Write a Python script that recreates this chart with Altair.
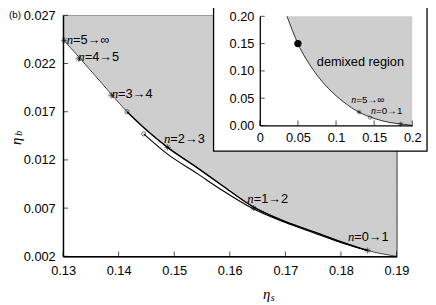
import altair as alt
import pandas as pd

# ---------------- main panel data ----------------
eta_s = [0.1300, 0.1328, 0.1387, 0.1415, 0.1452, 0.1488, 0.1541, 0.1585, 0.1643, 0.1700, 0.1753, 0.1806, 0.1848, 0.1900]
eta_b = [0.0245, 0.0227, 0.0188, 0.0170, 0.0150, 0.0133, 0.0112, 0.0094, 0.0071, 0.0056, 0.0045, 0.0034, 0.0026, 0.0020]

low_s = [0.1445, 0.1488, 0.1541, 0.1585, 0.1643, 0.1700, 0.1753, 0.1806, 0.1848]
low_b = [0.0147, 0.0126, 0.0106, 0.0089, 0.0069, 0.0055, 0.0044, 0.0033, 0.0026]

star_s = [0.1302, 0.1328, 0.1387, 0.1488, 0.1643, 0.1848]
star_b = [0.0244, 0.0225, 0.0187, 0.0133, 0.0070, 0.0026]
circ_s = [0.1415, 0.1445]
circ_b = [0.0170, 0.0147]

lab_text = ["=5→∞", "=4→5", "=3→4", "=2→3", "=1→2", "=0→1"]
lab_s = [0.1318, 0.1339, 0.1399, 0.1493, 0.1643, 0.1824]
lab_b = [0.02445, 0.0227, 0.0188, 0.0142, 0.0079, 0.0040]

x_ticks = [0.13, 0.14, 0.15, 0.16, 0.17, 0.18, 0.19]
y_ticks = [0.002, 0.007, 0.012, 0.017, 0.022, 0.027]

# ---------------- inset data ----------------
in_s = [0.0357, 0.05, 0.07, 0.09, 0.11, 0.13, 0.15, 0.17, 0.19, 0.20]
in_b = [0.200, 0.150, 0.102, 0.068, 0.043, 0.0245, 0.0130, 0.0056, 0.0020, 0.0]
crit_s = [0.05]
crit_b = [0.15]
in_star_s = [0.1302, 0.1848]
in_star_b = [0.0244, 0.0026]
in_circ_s = [0.1445]
in_circ_b = [0.0147]
in_lab_text = ["=5→∞", "=0→1"]
in_lab_s = [0.1265, 0.1523]
in_lab_b = [0.046, 0.027]
in_x_ticks = [0, 0.05, 0.1, 0.15, 0.2]
in_y_ticks = [0, 0.05, 0.1, 0.15, 0.2]

STAR = "M-1,0L1,0M0,-1L0,1M-0.7,-0.7L0.7,0.7M-0.7,0.7L0.7,-0.7"
SANS = "Liberation Sans"
SERIF = "Liberation Serif"

# ---------------- scales & axes ----------------
xs = alt.Scale(domain=[x_ticks[0], x_ticks[-1]], nice=False, zero=False)
ys = alt.Scale(domain=[y_ticks[0], y_ticks[-1]], nice=False, zero=False)

common_axis = dict(ticks=False, grid=False, domainColor="black", domainWidth=1.3,
                   labelFont=SANS, labelFontSize=13, labelColor="black",
                   labelFlush=False, labelOverlap=False, title=None, zindex=1)
ax_x = alt.Axis(values=x_ticks, format=".2f", labelPadding=8, **common_axis)
ax_y = alt.Axis(values=y_ticks, format=".3f", labelPadding=8, **common_axis)

ixs = alt.Scale(domain=[0, 0.2], range=[200, 355], nice=False, zero=False)
iys = alt.Scale(domain=[0, 0.2], range=[112, 1], nice=False, zero=False)
iax_x = alt.Axis(values=in_x_ticks, format="~g", labelPadding=6, orient="bottom", offset=-133, **common_axis)
iax_y = alt.Axis(values=in_y_ticks, format=".2f", labelPadding=6, orient="left", offset=-200, **common_axis)


def X(f):
    return alt.X(f, type="quantitative", scale=xs, axis=ax_x)


def Y(f):
    return alt.Y(f, type="quantitative", scale=ys, axis=ax_y)


def IX(f):
    return alt.X(f, type="quantitative", scale=ixs, axis=iax_x)


def IY(f):
    return alt.Y(f, type="quantitative", scale=iys, axis=iax_y)


# ---------------- main panel ----------------
curve = pd.DataFrame({"s": eta_s, "b": eta_b})
lower = pd.DataFrame({"s": low_s, "b": low_b})
stars = pd.DataFrame({"s": star_s, "b": star_b})
circs = pd.DataFrame({"s": circ_s, "b": circ_b})
labs = pd.DataFrame({"s": lab_s, "b": lab_b, "t": lab_text})
xt = pd.DataFrame({"t": x_ticks, "base": [y_ticks[0]] * len(x_ticks)})
yt = pd.DataFrame({"t": y_ticks, "base": [x_ticks[0]] * len(y_ticks)})
one = pd.DataFrame({"a": [0]})

m_area = alt.Chart(curve).mark_area(color="#cecece", interpolate="monotone").encode(
    x=X("s"), y=Y("b"), y2=alt.datum(y_ticks[-1]))
m_bound = alt.Chart(curve).mark_line(color="black", strokeWidth=0.7, interpolate="monotone").encode(
    x=X("s"), y=Y("b"))
m_thick = alt.Chart(curve.iloc[3:13]).mark_line(color="black", strokeWidth=1.4, interpolate="monotone").encode(
    x=X("s"), y=Y("b"))
m_low = alt.Chart(lower).mark_line(color="black", strokeWidth=1.1, interpolate="monotone").encode(
    x=X("s"), y=Y("b"))
m_stars = alt.Chart(stars).mark_point(shape=STAR, size=40, filled=False, color="black", strokeWidth=0.8).encode(
    x=X("s"), y=Y("b"))
m_circs = alt.Chart(circs).mark_point(shape="circle", size=18, filled=False, color="black", strokeWidth=0.8).encode(
    x=X("s"), y=Y("b"))
m_n = alt.Chart(labs).mark_text(text="n", font=SERIF, fontStyle="italic", fontSize=13, align="right",
                                baseline="middle", color="black").encode(x=X("s"), y=Y("b"))
m_rest = alt.Chart(labs).mark_text(font=SANS, fontSize=13, align="left", baseline="middle", color="black").encode(
    x=X("s"), y=Y("b"), text="t:N")
m_xt = alt.Chart(xt).mark_tick(orient="vertical", size=5, thickness=1, color="black", yOffset=-2.5).encode(
    x=X("t"), y=Y("base"))
m_yt = alt.Chart(yt).mark_tick(orient="horizontal", size=5, thickness=1, color="black", xOffset=2.5).encode(
    y=Y("t"), x=X("base"))

t_b = alt.Chart(one).mark_text(text="(b)", font=SANS, fontSize=10, align="left", baseline="top", color="black").encode(
    x=alt.value(-55), y=alt.value(-5))
t_eta_y = alt.Chart(one).mark_text(text="η", font=SERIF, fontStyle="italic", fontSize=15, angle=270,
                                   align="center", baseline="middle", color="black").encode(
    x=alt.value(-48), y=alt.value(128))
t_b_y = alt.Chart(one).mark_text(text="b", font=SERIF, fontStyle="italic", fontSize=10, angle=270,
                                 align="center", baseline="middle", color="black").encode(
    x=alt.value(-45), y=alt.value(120))
t_eta_x = alt.Chart(one).mark_text(text="η", font=SERIF, fontStyle="italic", fontSize=15,
                                   align="center", baseline="middle", color="black").encode(
    x=alt.value(207), y=alt.value(283))
t_s_x = alt.Chart(one).mark_text(text="s", font=SERIF, fontStyle="italic", fontSize=10,
                                 align="center", baseline="middle", color="black").encode(
    x=alt.value(213), y=alt.value(287))

main = alt.layer(m_area, m_bound, m_thick, m_low, m_stars, m_circs, m_n, m_rest, m_xt, m_yt,
                 t_b, t_eta_y, t_b_y, t_eta_x, t_s_x)

# ---------------- inset ----------------
icurve = pd.DataFrame({"s": in_s, "b": in_b})
icrit = pd.DataFrame({"s": crit_s, "b": crit_b})
istars = pd.DataFrame({"s": in_star_s, "b": in_star_b})
icircs = pd.DataFrame({"s": in_circ_s, "b": in_circ_b})
ilabs = pd.DataFrame({"s": in_lab_s, "b": in_lab_b, "t": in_lab_text})
ixt = pd.DataFrame({"t": in_x_ticks, "base": [in_y_ticks[0]] * len(in_x_ticks)})
iyt = pd.DataFrame({"t": in_y_ticks, "base": [in_x_ticks[0]] * len(in_y_ticks)})
itext = pd.DataFrame({"s": [0.132], "b": [0.117], "t": ["demixed region"]})

i_box = alt.Chart(one).mark_rect(fill="white", stroke="black", strokeWidth=1.3).encode(
    x=alt.value(153), x2=alt.value(370), y=alt.value(-8), y2=alt.value(138))
i_area = alt.Chart(icurve).mark_area(color="#cecece", interpolate="monotone").encode(
    x=IX("s"), y=IY("b"), y2=alt.datum(in_y_ticks[-1]))
i_line = alt.Chart(icurve).mark_line(color="black", strokeWidth=0.8, interpolate="monotone").encode(
    x=IX("s"), y=IY("b"))
i_crit = alt.Chart(icrit).mark_point(shape="circle", size=55, filled=True, color="black", opacity=1).encode(
    x=IX("s"), y=IY("b"))
i_stars = alt.Chart(istars).mark_point(shape=STAR, size=22, filled=False, color="black", strokeWidth=0.8).encode(
    x=IX("s"), y=IY("b"))
i_circs = alt.Chart(icircs).mark_point(shape="circle", size=12, filled=False, color="black", strokeWidth=0.7).encode(
    x=IX("s"), y=IY("b"))
i_n = alt.Chart(ilabs).mark_text(text="n", font=SERIF, fontStyle="italic", fontSize=10, align="right",
                                 baseline="middle", color="black").encode(x=IX("s"), y=IY("b"))
i_rest = alt.Chart(ilabs).mark_text(font=SANS, fontSize=10, align="left", baseline="middle", color="black").encode(
    x=IX("s"), y=IY("b"), text="t:N")
i_txt = alt.Chart(itext).mark_text(font=SANS, fontSize=13, align="center", baseline="middle", color="black").encode(
    x=IX("s"), y=IY("b"), text="t:N")
i_xt = alt.Chart(ixt).mark_tick(orient="vertical", size=5, thickness=1, color="black", yOffset=-2.5).encode(
    x=IX("t"), y=IY("base"))
i_yt = alt.Chart(iyt).mark_tick(orient="horizontal", size=5, thickness=1, color="black", xOffset=2.5).encode(
    y=IY("t"), x=IX("base"))

inset = alt.layer(i_box, i_area, i_line, i_crit, i_stars, i_circs, i_n, i_rest, i_txt, i_xt, i_yt)

chart = alt.layer(main, inset).resolve_scale(x="independent", y="independent").properties(
    width=339, height=245,
    autosize=alt.AutoSizeParams(type="none"),
    padding={"left": 56, "top": 5, "right": 32, "bottom": 44},
).configure_view(stroke="black", strokeWidth=1.2)

chart.save("out.html", embed_options={"renderer": "svg", "actions": False})
